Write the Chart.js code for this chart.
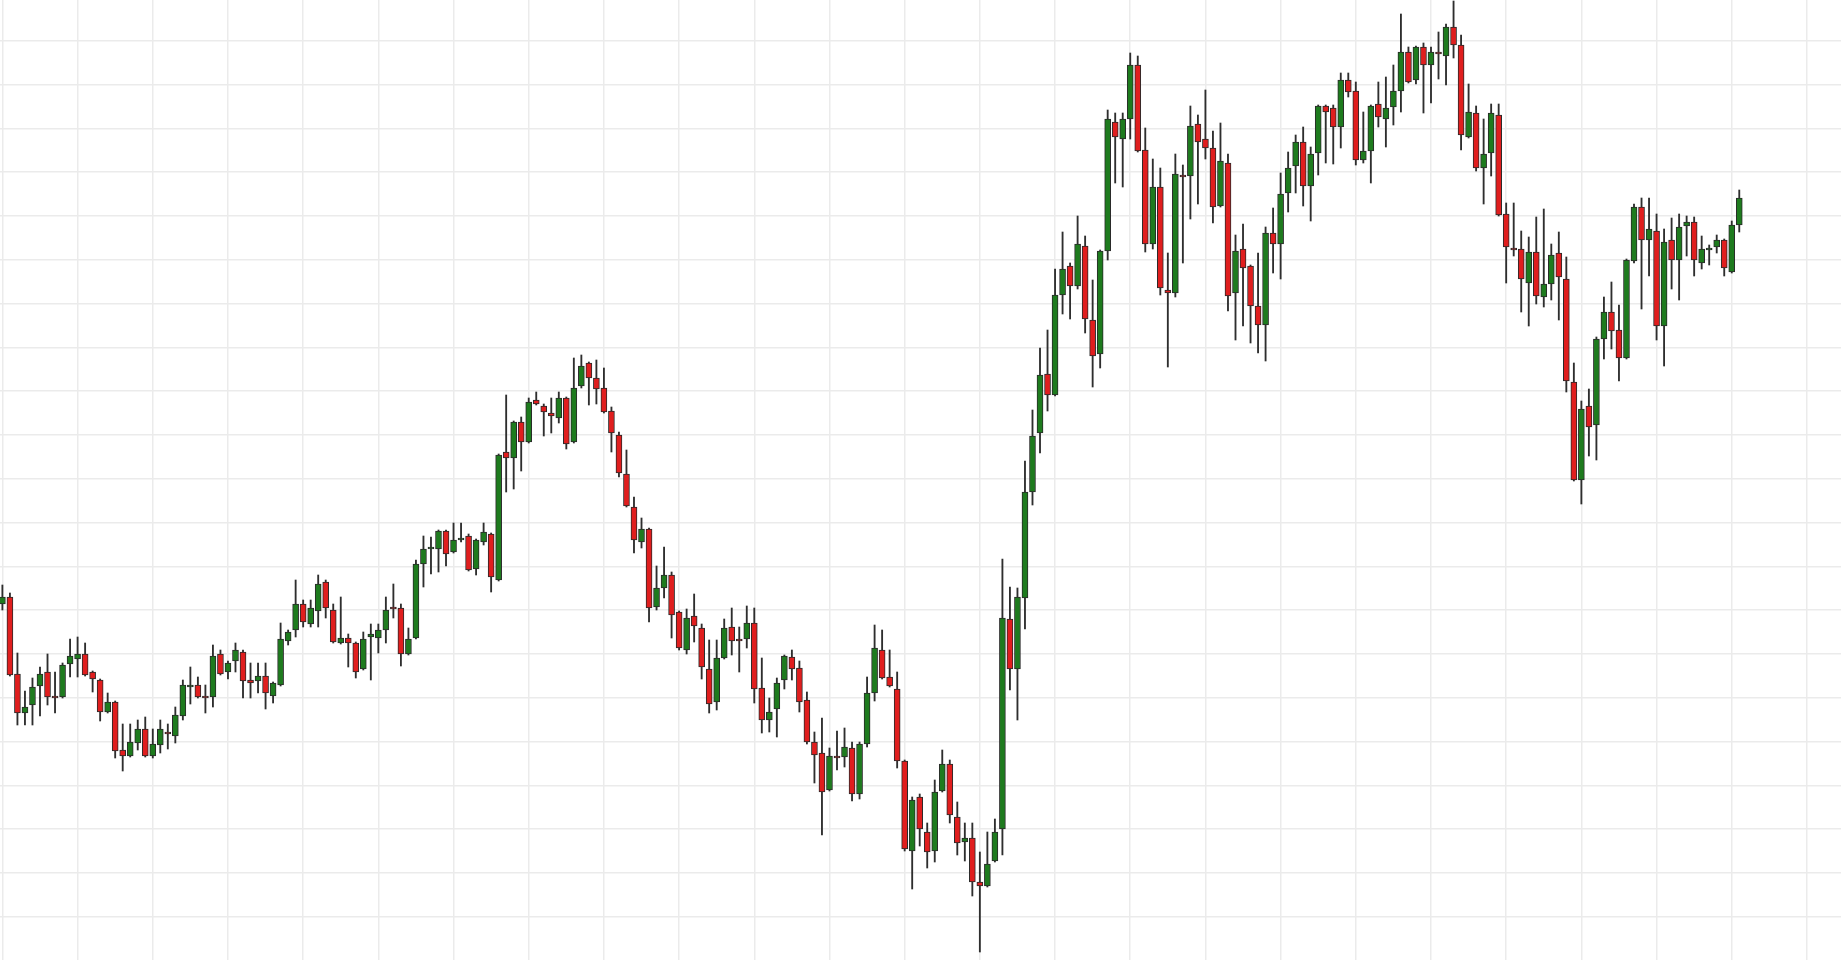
<!DOCTYPE html>
<html>
<head>
<meta charset="utf-8">
<title>Candles</title>
<script src="https://cdn.jsdelivr.net/npm/chart.js@4.4.1/dist/chart.umd.min.js"></script>
<style>
    html, body { margin: 0; padding: 0; background: #ffffff; overflow: hidden; }
    #wrap { width: 1841px; height: 960px; }
</style>
</head>
<body>
<div id="wrap"><canvas id="chart1" width="1841" height="960"></canvas></div>
<script>
// OHLC, one entry per candle
const opens = [
    1.0856,1.0863,1.0786,1.0747,1.0755,1.0774,1.0788,1.0764,1.0763,1.0796,
    1.0801,1.0806,1.0788,1.0780,1.0748,1.0758,1.0710,1.0704,1.0717,1.0731,
    1.0704,1.0715,1.0728,1.0724,1.0744,1.0773,1.0775,1.0764,1.0763,1.0806,
    1.0788,1.0799,1.0808,1.0780,1.0779,1.0784,1.0764,1.0775,1.0819,1.0830,
    1.0856,1.0836,1.0849,1.0878,1.0850,1.0817,1.0822,1.0817,1.0791,1.0823,
    1.0822,1.0830,1.0852,1.0852,1.0806,1.0822,1.0896,1.0911,1.0911,1.0929,
    1.0908,1.0920,1.0924,1.0891,1.0918,1.0926,1.0880,1.1008,1.1002,1.1038,
    1.1018,1.1060,1.1054,1.1047,1.1042,1.1062,1.1018,1.1074,1.1097,1.1082,
    1.1072,1.1049,1.1025,1.0986,1.0953,1.0918,1.0931,1.0853,1.0872,1.0885,
    1.0848,1.0810,1.0844,1.0832,1.0791,1.0758,1.0802,1.0833,1.0820,1.0821,
    1.0837,1.0772,1.0740,1.0751,1.0780,1.0803,1.0792,1.0760,1.0718,1.0707,
    1.0670,1.0704,1.0703,1.0712,1.0666,1.0716,1.0767,1.0810,1.0783,1.0771,
    1.0699,1.0609,1.0663,1.0628,1.0609,1.0669,1.0696,1.0643,1.0618,1.0622,
    1.0578,1.0574,1.0599,1.0631,1.0841,1.0791,1.0862,1.0968,1.1027,1.1086,
    1.1065,1.1165,1.1194,1.1174,1.1214,1.1140,1.1106,1.1209,1.1338,1.1321,
    1.1341,1.1395,1.1310,1.1216,1.1273,1.1170,1.1167,1.1284,1.1284,1.1336,
    1.1321,1.1312,1.1254,1.1297,1.1167,1.1211,1.1194,1.1154,1.1135,1.1227,
    1.1216,1.1267,1.1294,1.1318,1.1274,1.1307,1.1354,1.1352,1.1333,1.1380,
    1.1369,1.1300,1.1309,1.1356,1.1341,1.1353,1.1369,1.1408,1.1380,1.1413,
    1.1395,1.1408,1.1404,1.1433,1.1415,1.1323,1.1347,1.1292,1.1307,1.1345,
    1.1246,1.1211,1.1211,1.1177,1.1208,1.1163,1.1176,1.1207,1.1181,1.1078,
    1.0980,1.1054,1.1035,1.1121,1.1148,1.1130,1.1102,1.1199,1.1253,1.1220,
    1.1229,1.1134,1.1220,1.1200,1.1234,1.1238,1.1197,1.1210,1.1213,1.1220,
    1.1188,1.1235
];
const highs = [
    1.0875,1.0867,1.0807,1.0769,1.0782,1.0793,1.0806,1.0788,1.0797,1.0821,
    1.0823,1.0817,1.0789,1.0781,1.0767,1.0759,1.0736,1.0736,1.0740,1.0743,
    1.0731,1.0740,1.0736,1.0753,1.0780,1.0793,1.0783,1.0775,1.0815,1.0810,
    1.0799,1.0817,1.0810,1.0797,1.0797,1.0797,1.0778,1.0837,1.0830,1.0880,
    1.0860,1.0860,1.0885,1.0880,1.0856,1.0863,1.0826,1.0818,1.0828,1.0836,
    1.0836,1.0863,1.0876,1.0856,1.0832,1.0900,1.0924,1.0923,1.0930,1.0930,
    1.0937,1.0937,1.0926,1.0921,1.0937,1.0927,1.1006,1.1065,1.1039,1.1043,
    1.1062,1.1068,1.1056,1.1062,1.1068,1.1063,1.1102,1.1105,1.1098,1.1100,
    1.1092,1.1053,1.1028,1.1010,1.0963,1.0942,1.0932,1.0894,1.0913,1.0888,
    1.0849,1.0851,1.0866,1.0836,1.0820,1.0820,1.0841,1.0852,1.0833,1.0854,
    1.0852,1.0802,1.0762,1.0782,1.0805,1.0810,1.0799,1.0768,1.0728,1.0742,
    1.0712,1.0729,1.0732,1.0718,1.0718,1.0783,1.0835,1.0830,1.0810,1.0788,
    1.0700,1.0663,1.0666,1.0637,1.0680,1.0710,1.0700,1.0658,1.0637,1.0637,
    1.0608,1.0628,1.0641,1.0901,1.0873,1.0872,1.0999,1.1050,1.1112,1.1130,
    1.1191,1.1228,1.1197,1.1244,1.1224,1.1180,1.1210,1.1350,1.1347,1.1347,
    1.1407,1.1404,1.1332,1.1301,1.1292,1.1207,1.1306,1.1295,1.1354,1.1345,
    1.1370,1.1329,1.1337,1.1306,1.1225,1.1236,1.1195,1.1207,1.1233,1.1252,
    1.1287,1.1308,1.1325,1.1333,1.1313,1.1355,1.1355,1.1355,1.1387,1.1387,
    1.1378,1.1348,1.1355,1.1378,1.1383,1.1395,1.1446,1.1413,1.1414,1.1417,
    1.1413,1.1428,1.1436,1.1459,1.1425,1.1376,1.1354,1.1341,1.1356,1.1356,
    1.1257,1.1257,1.1229,1.1223,1.1243,1.1251,1.1216,1.1228,1.1203,1.1097,
    1.1059,1.1071,1.1123,1.1163,1.1178,1.1155,1.1201,1.1256,1.1262,1.1262,
    1.1246,1.1231,1.1242,1.1246,1.1244,1.1243,1.1224,1.1215,1.1225,1.1221,
    1.1239,1.1270
];
const lows = [
    1.0850,1.0784,1.0735,1.0735,1.0735,1.0744,1.0755,1.0747,1.0762,1.0783,
    1.0783,1.0784,1.0768,1.0739,1.0747,1.0702,1.0689,1.0703,1.0710,1.0703,
    1.0702,1.0707,1.0711,1.0717,1.0740,1.0756,1.0762,1.0747,1.0753,1.0785,
    1.0781,1.0788,1.0762,1.0762,1.0767,1.0751,1.0757,1.0774,1.0815,1.0823,
    1.0833,1.0833,1.0833,1.0842,1.0817,1.0816,1.0793,1.0782,1.0790,1.0780,
    1.0807,1.0817,1.0842,1.0794,1.0805,1.0821,1.0873,1.0886,1.0888,1.0894,
    1.0907,1.0918,1.0889,1.0885,1.0915,1.0868,1.0879,1.0968,1.0971,1.0989,
    1.1017,1.1055,1.1024,1.1027,1.1037,1.1011,1.1017,1.1072,1.1055,1.1056,
    1.1047,1.1008,1.0983,1.0953,1.0907,1.0912,1.0838,1.0850,1.0862,1.0822,
    1.0810,1.0806,1.0818,1.0781,1.0747,1.0750,1.0801,1.0805,1.0788,1.0812,
    1.0757,1.0727,1.0728,1.0723,1.0771,1.0780,1.0748,1.0716,1.0677,1.0625,
    1.0669,1.0690,1.0693,1.0659,1.0661,1.0713,1.0759,1.0781,1.0773,1.0692,
    1.0609,1.0571,1.0614,1.0592,1.0598,1.0668,1.0637,1.0605,1.0599,1.0564,
    1.0508,1.0573,1.0598,1.0605,1.0770,1.0740,1.0831,1.0955,1.1007,1.1049,
    1.1064,1.1146,1.1141,1.1171,1.1127,1.1073,1.1092,1.1200,1.1277,1.1273,
    1.1321,1.1308,1.1208,1.1211,1.1165,1.1093,1.1163,1.1197,1.1241,1.1256,
    1.1301,1.1237,1.1253,1.1149,1.1120,1.1134,1.1117,1.1107,1.1099,1.1187,
    1.1181,1.1248,1.1267,1.1254,1.1239,1.1285,1.1297,1.1296,1.1312,1.1363,
    1.1295,1.1297,1.1277,1.1333,1.1313,1.1335,1.1348,1.1377,1.1376,1.1347,
    1.1357,1.1381,1.1375,1.1402,1.1310,1.1322,1.1289,1.1256,1.1284,1.1244,
    1.1177,1.1204,1.1148,1.1134,1.1156,1.1153,1.1160,1.1140,1.1068,1.0979,
    1.0956,1.1004,1.1000,1.1101,1.1111,1.1079,1.1101,1.1197,1.1151,1.1184,
    1.1120,1.1094,1.1171,1.1160,1.1204,1.1184,1.1191,1.1195,1.1207,1.1184,
    1.1187,1.1228
];
const closes = [
    1.0863,1.0785,1.0747,1.0753,1.0773,1.0786,1.0763,1.0762,1.0795,1.0804,
    1.0806,1.0785,1.0781,1.0748,1.0758,1.0709,1.0704,1.0718,1.0731,1.0704,
    1.0716,1.0731,1.0726,1.0745,1.0775,1.0775,1.0763,1.0762,1.0804,1.0786,
    1.0797,1.0810,1.0779,1.0777,1.0784,1.0767,1.0777,1.0821,1.0828,1.0856,
    1.0838,1.0852,1.0876,1.0852,1.0818,1.0822,1.0817,1.0788,1.0821,1.0826,
    1.0830,1.0850,1.0851,1.0806,1.0821,1.0896,1.0911,1.0912,1.0929,1.0906,
    1.0920,1.0922,1.0890,1.0920,1.0928,1.0883,1.1005,1.1002,1.1038,1.1018,
    1.1058,1.1056,1.1048,1.1044,1.1062,1.1016,1.1072,1.1094,1.1082,1.1071,
    1.1048,1.1027,1.0987,1.0954,1.0920,1.0931,1.0852,1.0872,1.0885,1.0845,
    1.0812,1.0842,1.0834,1.0793,1.0756,1.0802,1.0832,1.0819,1.0819,1.0837,
    1.0771,1.0740,1.0748,1.0777,1.0804,1.0791,1.0758,1.0718,1.0705,1.0668,
    1.0704,1.0702,1.0713,1.0666,1.0716,1.0767,1.0812,1.0782,1.0774,1.0699,
    1.0611,1.0660,1.0631,1.0608,1.0668,1.0696,1.0645,1.0617,1.0622,1.0578,
    1.0574,1.0596,1.0628,1.0842,1.0791,1.0863,1.0968,1.1024,1.1085,1.1065,
    1.1165,1.1191,1.1174,1.1216,1.1141,1.1104,1.1209,1.1341,1.1323,1.1341,
    1.1395,1.1309,1.1216,1.1273,1.1172,1.1167,1.1286,1.1283,1.1334,1.1318,
    1.1312,1.1253,1.1299,1.1164,1.1209,1.1192,1.1154,1.1135,1.1227,1.1216,
    1.1266,1.1292,1.1318,1.1274,1.1306,1.1354,1.1348,1.1333,1.1380,1.1368,
    1.1300,1.1309,1.1354,1.1343,1.1352,1.1369,1.1408,1.1378,1.1413,1.1395,
    1.1408,1.1406,1.1433,1.1415,1.1325,1.1348,1.1292,1.1306,1.1347,1.1245,
    1.1213,1.1210,1.1181,1.1208,1.1164,1.1176,1.1205,1.1183,1.1079,1.0980,
    1.1051,1.1033,1.1121,1.1148,1.1129,1.1102,1.1200,1.1253,1.1220,1.1231,
    1.1134,1.1218,1.1200,1.1233,1.1238,1.1200,1.1211,1.1211,1.1220,1.1192,
    1.1235,1.1262
];

const upColor = '#1e7b1e';
const downColor = '#e01e1e';
const wickColor = '#2e2e2e';
const gridColor = '#ebebeb';

// body = [open, close], wick = [low, high]
const bodies = opens.map((o, i) => ({ x: i, y: [o, closes[i]] }));
const wicks = lows.map((l, i) => ({ x: i, y: [l, highs[i]] }));
const bodyColors = opens.map((o, i) => closes[i] >= o ? upColor : downColor);

// grid: a vertical line every 10 candles, horizontal every 0.00438
const gridX = [];
for (let v = 0; v <= 240; v += 10) gridX.push(v);
const gridY = [];
for (let i = 0; i <= 20; i++) gridY.push(1.05433 + i * 0.00438);

function hiddenAxis(min, max, ticks) {
    return {
        type: 'linear',
        min: min,
        max: max,
        offset: false,
        ticks: { display: false },
        border: { display: false },
        grid: { color: gridColor, lineWidth: 1.5, drawTicks: false, offset: false },
        afterBuildTicks: function (scale) {
            scale.ticks = ticks.map(v => ({ value: v }));
        }
    };
}

const ctx = document.getElementById('chart1');
new Chart(ctx, {
    type: 'bar',
    data: {
        datasets: [{
            label: 'wick',
            data: wicks,
            backgroundColor: wickColor,
            barThickness: 1.2,
            grouped: false,
            order: 2
        }, {
            label: 'body',
            data: bodies,
            backgroundColor: bodyColors,
            borderColor: '#2a2a2a',
            borderWidth: 1,
            borderSkipped: false,
            barThickness: 6,
            minBarLength: 2,
            grouped: false,
            order: 1
        }]
    },
    options: {
        responsive: false,
        maintainAspectRatio: false,
        animation: false,
        layout: { padding: 0 },
        plugins: {
            legend: { display: false },
            tooltip: { enabled: false }
        },
        scales: {
            x: hiddenAxis(-0.319, 244.53, gridX),
            y: hiddenAxis(1.0500, 1.1460, gridY)
        }
    }
});
</script>
</body>
</html>
